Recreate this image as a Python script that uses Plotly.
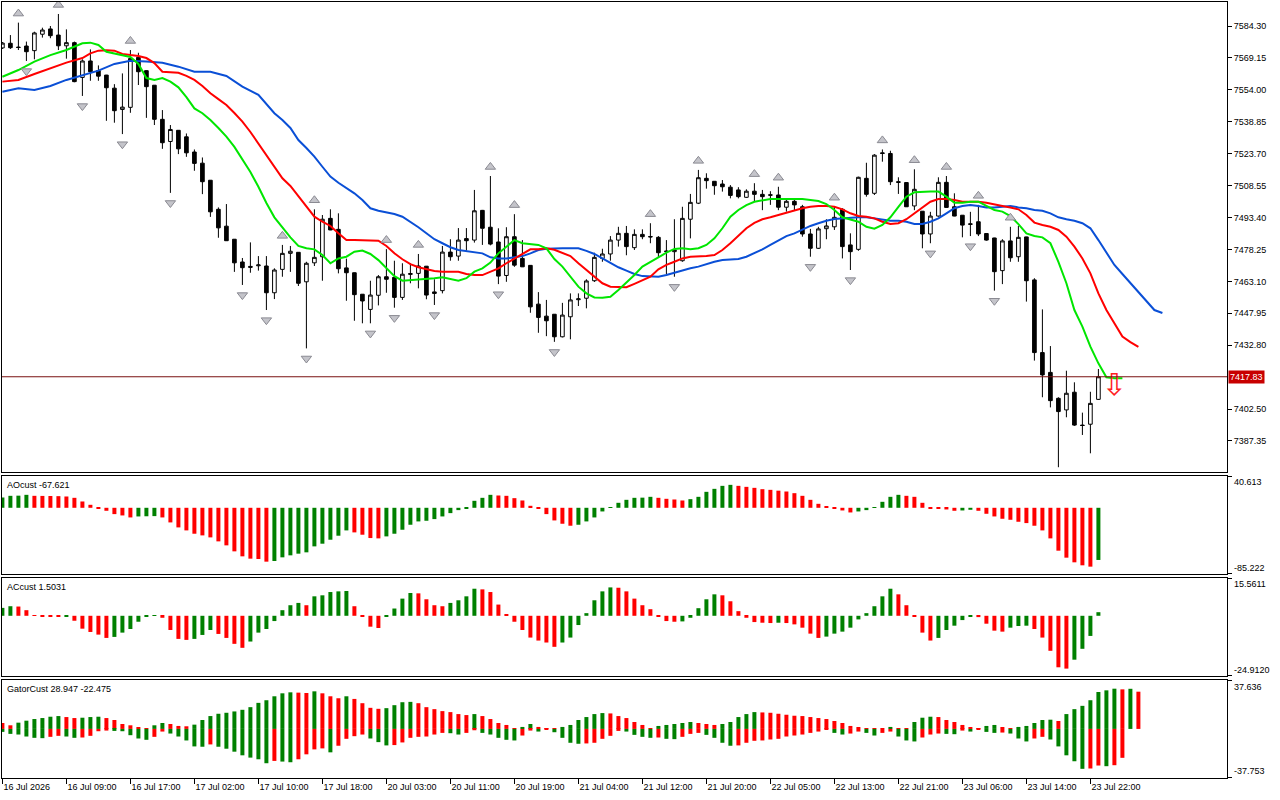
import plotly.graph_objects as go

# ---------------- data ----------------
tick_labels = ["16 Jul 2026", "16 Jul 09:00", "16 Jul 17:00", "17 Jul 02:00", "17 Jul 10:00",
               "17 Jul 18:00", "20 Jul 03:00", "20 Jul 11:00", "20 Jul 19:00", "21 Jul 04:00",
               "21 Jul 12:00", "21 Jul 20:00", "22 Jul 05:00", "22 Jul 13:00", "22 Jul 21:00",
               "23 Jul 06:00", "23 Jul 14:00", "23 Jul 22:00"]
tick_bars = [0, 8, 16, 24, 32, 40, 48, 56, 64, 72, 80, 88, 96, 104, 112, 120, 128, 136]

opens = [7573.9, 7576.1, 7574.3, 7574.8, 7572.6, 7580.4, 7582.9, 7580.0, 7574.9, 7576.4,
         7559.9, 7567.7, 7563.1, 7561.0, 7554.8, 7544.7, 7545.7, 7569.4, 7563.1, 7556.2,
         7540.0, 7529.5, 7534.8, 7531.7, 7524.5, 7519.2, 7511.1, 7497.3, 7489.3, 7483.1,
         7472.3, 7470.2, 7470.5, 7470.4, 7457.7, 7468.8, 7476.4, 7476.9, 7462.9, 7471.9,
         7474.8, 7493.0, 7487.8, 7469.5, 7467.2, 7457.0, 7449.8, 7456.5, 7465.3, 7465.0,
         7455.5, 7466.4, 7466.9, 7470.3, 7458.1, 7458.7, 7477.0, 7475.1, 7483.4, 7482.7,
         7496.8, 7488.8, 7481.8, 7465.9, 7484.3, 7474.0, 7470.7, 7452.3, 7446.6, 7447.5,
         7436.8, 7446.3, 7454.4, 7455.1, 7463.4, 7474.0, 7476.1, 7482.7, 7485.9, 7479.1,
         7485.4, 7484.4, 7484.0, 7477.5, 7477.2, 7472.9, 7492.6, 7500.2, 7512.0, 7510.6,
         7509.3, 7507.8, 7506.5, 7503.0, 7505.9, 7504.4, 7504.2, 7504.1, 7498.3, 7501.1,
         7498.5, 7485.6, 7478.8, 7488.1, 7489.0, 7497.3, 7480.4, 7478.3, 7512.0, 7504.9,
         7524.1, 7523.8, 7510.4, 7510.0, 7498.9, 7496.4, 7485.6, 7494.1, 7510.1, 7498.5,
         7494.5, 7490.4, 7491.4, 7485.8, 7483.7, 7468.2, 7482.3, 7474.8, 7484.2, 7463.8,
         7429.3, 7419.9, 7407.6, 7402.1, 7410.5, 7394.9, 7395.3, 7407.1]
highs = [7576.7, 7580.0, 7585.9, 7576.9, 7581.6, 7583.5, 7584.3, 7590.0, 7582.7, 7576.9,
         7568.5, 7573.2, 7565.6, 7561.1, 7556.7, 7561.8, 7572.9, 7571.6, 7563.3, 7556.3,
         7544.4, 7537.3, 7534.9, 7533.3, 7525.7, 7521.9, 7511.2, 7498.2, 7499.8, 7483.2,
         7474.2, 7481.6, 7475.1, 7475.1, 7469.3, 7480.4, 7479.9, 7477.0, 7472.4, 7497.3,
         7494.6, 7497.3, 7495.4, 7473.9, 7467.3, 7457.1, 7463.4, 7466.1, 7478.4, 7472.9,
         7471.7, 7471.7, 7476.1, 7470.4, 7464.1, 7479.9, 7483.1, 7488.4, 7488.4, 7506.5,
         7497.0, 7513.1, 7488.3, 7488.8, 7495.0, 7482.7, 7470.8, 7458.0, 7454.3, 7447.6,
         7452.9, 7457.4, 7457.4, 7464.1, 7476.7, 7478.6, 7484.6, 7489.0, 7489.4, 7487.8,
         7487.8, 7490.7, 7484.6, 7482.7, 7492.6, 7498.5, 7504.6, 7516.0, 7514.4, 7510.7,
         7511.2, 7508.8, 7507.8, 7506.8, 7509.7, 7506.5, 7505.9, 7508.0, 7502.5, 7502.5,
         7499.4, 7488.0, 7489.0, 7492.6, 7498.5, 7497.8, 7485.9, 7512.8, 7519.4, 7523.5,
         7525.7, 7525.1, 7512.5, 7510.1, 7516.3, 7496.5, 7496.1, 7512.5, 7513.1, 7504.9,
         7494.6, 7496.1, 7499.4, 7485.9, 7483.8, 7483.1, 7489.0, 7489.4, 7484.3, 7464.6,
         7449.8, 7432.4, 7408.1, 7420.7, 7415.2, 7400.8, 7410.7, 7421.5]
lows = [7573.4, 7573.4, 7572.9, 7567.7, 7568.5, 7578.8, 7578.5, 7572.9, 7568.8, 7557.6,
        7551.1, 7558.3, 7558.3, 7539.3, 7538.4, 7533.0, 7543.1, 7556.3, 7540.7, 7537.3,
        7526.0, 7505.1, 7523.5, 7522.2, 7515.6, 7504.5, 7493.7, 7483.8, 7482.3, 7467.6,
        7461.4, 7467.2, 7468.2, 7449.5, 7454.7, 7465.3, 7467.6, 7460.9, 7431.3, 7470.4,
        7463.4, 7487.4, 7466.9, 7453.9, 7444.4, 7443.2, 7443.2, 7451.7, 7457.7, 7450.6,
        7454.3, 7462.2, 7459.8, 7454.6, 7451.9, 7457.4, 7472.9, 7472.9, 7477.7, 7481.5,
        7480.4, 7480.2, 7461.8, 7462.9, 7470.0, 7469.9, 7448.2, 7438.7, 7437.1, 7434.4,
        7436.5, 7435.6, 7451.4, 7450.3, 7462.8, 7472.4, 7472.9, 7479.6, 7475.5, 7478.0,
        7483.1, 7481.2, 7474.5, 7466.6, 7465.3, 7472.4, 7483.5, 7499.8, 7507.1, 7504.2,
        7505.7, 7502.5, 7502.5, 7502.7, 7500.9, 7496.9, 7499.4, 7496.9, 7496.2, 7496.9,
        7484.3, 7474.8, 7478.5, 7483.1, 7487.5, 7474.0, 7468.5, 7477.6, 7503.3, 7504.1,
        7519.9, 7508.8, 7504.6, 7498.4, 7496.9, 7478.8, 7481.2, 7493.8, 7498.1, 7494.0,
        7484.0, 7484.6, 7484.6, 7482.4, 7458.7, 7461.8, 7472.4, 7472.4, 7453.5, 7425.5,
        7408.1, 7403.3, 7374.9, 7398.6, 7394.5, 7390.2, 7381.5, 7406.8]
closes = [7576.2, 7574.0, 7574.1, 7572.1, 7581.0, 7582.4, 7579.7, 7574.9, 7576.4, 7557.9,
          7567.7, 7562.6, 7560.5, 7555.0, 7544.1, 7545.8, 7568.9, 7562.6, 7555.5, 7540.0,
          7528.9, 7535.2, 7526.0, 7524.1, 7519.1, 7510.4, 7496.1, 7488.5, 7482.4, 7471.9,
          7469.6, 7469.8, 7470.9, 7457.7, 7468.5, 7476.4, 7477.4, 7462.2, 7471.7, 7474.5,
          7492.6, 7487.5, 7469.1, 7467.2, 7456.8, 7453.8, 7456.6, 7465.3, 7464.1, 7455.5,
          7466.5, 7466.8, 7470.4, 7456.6, 7457.4, 7477.0, 7474.8, 7482.7, 7482.4, 7496.6,
          7488.3, 7480.8, 7465.6, 7484.3, 7470.8, 7470.0, 7451.0, 7446.0, 7444.4, 7436.8,
          7447.1, 7454.3, 7454.8, 7463.3, 7474.5, 7476.1, 7482.7, 7485.9, 7479.6, 7485.4,
          7484.3, 7484.2, 7476.7, 7477.3, 7478.0, 7493.0, 7500.6, 7512.3, 7510.9, 7508.5,
          7508.0, 7503.9, 7503.3, 7505.9, 7504.4, 7503.3, 7504.0, 7498.3, 7501.1, 7499.4,
          7485.6, 7478.8, 7488.0, 7489.4, 7493.5, 7479.6, 7477.2, 7512.5, 7504.4, 7523.0,
          7523.8, 7510.4, 7510.1, 7498.5, 7506.8, 7485.6, 7494.1, 7510.1, 7498.2, 7494.1,
          7489.8, 7490.2, 7485.6, 7482.7, 7467.7, 7482.3, 7474.3, 7484.0, 7463.4, 7429.3,
          7418.7, 7406.5, 7401.3, 7410.0, 7394.9, 7394.7, 7405.2, 7417.83]

lips_bars = [0, 2, 4, 6, 8] + list(range(10, 141))
lips = [7560.2, 7563.4, 7567.4, 7570.5, 7572.9,
        7576.1, 7576.4, 7575.3, 7572.1, 7571.3, 7570.5, 7569.6, 7566.3, 7559.6, 7558.7,
        7559.6, 7557.9, 7555.2, 7550.5, 7545.2, 7542.9, 7539.7, 7535.9, 7531.8, 7526.9,
        7520.7, 7515.0, 7508.0, 7500.3, 7493.5, 7488.8, 7484.0, 7479.9, 7478.8, 7478.3,
        7475.6, 7471.7, 7474.0, 7474.8, 7477.2, 7477.7, 7476.1, 7473.2, 7469.3, 7465.6,
        7463.4, 7463.7, 7463.7, 7464.1, 7464.6, 7465.0, 7464.1, 7463.4, 7464.6, 7467.7,
        7469.3, 7472.0, 7476.4, 7479.6, 7482.7, 7481.2, 7480.8, 7480.4, 7478.8, 7473.7,
        7470.1, 7465.3, 7460.6, 7457.4, 7455.5, 7455.3, 7455.8, 7459.0, 7462.5, 7466.1,
        7470.1, 7472.4, 7474.8, 7476.7, 7478.5, 7478.8, 7478.3, 7478.8, 7480.4, 7483.5,
        7488.3, 7493.8, 7497.0, 7499.3, 7500.9, 7501.7, 7502.2, 7502.2, 7502.2, 7502.2,
        7502.2, 7501.7, 7501.2, 7499.8, 7497.0, 7493.5, 7492.6, 7491.4, 7489.0, 7488.1,
        7489.9, 7493.5, 7498.5, 7503.3, 7505.4, 7505.7, 7505.7, 7505.7, 7503.3, 7500.4,
        7500.4, 7500.9, 7500.9, 7498.9, 7497.0, 7496.2, 7494.1, 7490.3, 7485.9, 7484.6,
        7484.0, 7481.2, 7472.4, 7462.2, 7449.5, 7441.6, 7432.1, 7424.2, 7417.6, 7417.1,
        7417.1]
teeth_bars = [0, 2, 4, 6, 8] + list(range(10, 143))
teeth = [7557.9, 7558.7, 7561.5, 7564.2, 7566.9,
         7569.1, 7571.3, 7572.6, 7572.8, 7572.6, 7571.0, 7570.5, 7570.1, 7569.1, 7566.7,
         7562.6, 7562.3, 7562.1, 7560.6, 7558.7, 7555.8, 7552.4, 7549.6, 7546.8, 7543.0,
         7538.9, 7534.0, 7528.6, 7523.1, 7517.5, 7512.0, 7508.4, 7503.6, 7498.5, 7493.8,
         7491.4, 7489.4, 7485.9, 7482.7, 7482.7, 7482.7, 7482.7, 7482.4, 7479.9, 7476.4,
         7473.6, 7471.3, 7469.8, 7468.8, 7468.0, 7467.7, 7467.7, 7467.7, 7466.6, 7466.1,
         7466.1, 7467.7, 7469.3, 7471.7, 7474.0, 7476.1, 7478.3, 7478.3, 7478.8, 7478.1,
         7476.7, 7475.1, 7471.7, 7468.5, 7465.0, 7462.2, 7460.6, 7460.3, 7460.3, 7461.9,
         7463.7, 7465.3, 7468.8, 7470.9, 7472.4, 7474.0, 7474.8, 7474.8, 7475.1, 7475.6,
         7478.0, 7481.2, 7484.6, 7488.3, 7490.9, 7492.6, 7493.5, 7494.6, 7495.7, 7497.0,
         7497.8, 7498.5, 7498.9, 7498.9, 7498.5, 7497.3, 7495.4, 7494.1, 7493.8, 7493.0,
         7491.4, 7490.3, 7490.7, 7492.6, 7495.4, 7498.2, 7500.9, 7502.2, 7502.2, 7501.7,
         7500.9, 7500.9, 7500.9, 7500.4, 7499.8, 7498.9, 7498.2, 7497.3, 7494.6, 7491.0,
         7489.9, 7489.0, 7487.5, 7484.3, 7479.6, 7474.0, 7466.9, 7457.4, 7449.5, 7443.2,
         7436.9, 7434.3, 7432.0]
jaw_bars = list(range(0, 35, 2)) + list(range(35, 146))
jaw = [7553.1, 7554.7, 7553.9, 7555.8, 7558.7, 7561.0, 7563.1, 7566.3, 7567.8, 7567.4,
       7566.9, 7565.0, 7562.6, 7562.6, 7560.6, 7555.5, 7551.6, 7542.9,
       7539.7, 7535.9, 7530.2, 7526.4, 7522.3, 7517.5, 7512.8, 7509.9, 7507.3, 7504.9,
       7501.7, 7497.8, 7496.6, 7495.7, 7495.1, 7493.8, 7491.4, 7488.8, 7485.9, 7483.1,
       7481.2, 7479.3, 7478.0, 7477.5, 7477.2, 7476.4, 7474.5, 7474.0, 7474.0, 7474.5,
       7475.1, 7476.4, 7478.0, 7478.6, 7478.8, 7478.8, 7478.8, 7478.8, 7477.6, 7476.1,
       7474.0, 7471.7, 7469.8, 7468.2, 7466.6, 7465.6, 7465.3, 7465.3, 7466.1, 7467.2,
       7468.5, 7469.3, 7470.1, 7471.3, 7472.4, 7473.2, 7473.6, 7473.7, 7474.8, 7476.4,
       7478.3, 7480.4, 7482.7, 7484.6, 7485.9, 7487.8, 7489.4, 7490.7, 7491.9, 7492.7,
       7493.0, 7493.5, 7493.5, 7493.5, 7493.0, 7492.2, 7491.9, 7491.9, 7491.4, 7490.3,
       7490.3, 7491.4, 7493.0, 7495.4, 7497.8, 7498.9, 7499.4, 7498.9, 7498.2, 7498.2,
       7498.5, 7498.9, 7498.2, 7497.8, 7497.0, 7496.6, 7495.4, 7493.5, 7492.6, 7491.9,
       7490.7, 7488.3, 7482.7, 7476.7, 7470.9, 7466.6, 7462.3, 7457.6, 7453.3, 7449.5,
       7448.1]

fractal_up_bars = [2, 7, 16, 35, 39, 48, 52, 61, 64, 81, 87, 94, 97, 104, 110, 114, 118, 122, 126]
fractal_down_bars = [3, 10, 15, 21, 30, 33, 38, 46, 49, 54, 62, 69, 84, 101, 106, 116, 121, 124, 132]
signal_bars = [139]
signal_prices = [7412.5]
current_price = 7417.83

ao = [13.36, 15.52, 15.73, 16.81, 15.52, 15.39, 15.26, 15.09, 14.65, 12.93,
      8.19, 3.88, -0.86, -3.88, -8.19, -9.91, -12.50, -11.21, -10.99, -10.78,
      -12.50, -18.96, -25.43, -29.31, -33.62, -35.77, -38.36, -43.53, -48.70, -56.46,
      -62.93, -65.94, -66.37, -69.82, -68.96, -64.22, -61.63, -59.48, -57.75, -50.00,
      -46.55, -41.38, -36.20, -29.31, -31.89, -34.91, -39.22, -39.65, -37.07, -33.62,
      -28.45, -21.98, -17.67, -16.81, -14.65, -11.21, -6.90, -3.02, -0.86, 9.05,
      12.93, 16.81, 15.95, 15.52, 12.50, 9.48, 2.59, -0.86, -8.19, -16.38,
      -20.69, -23.27, -21.98, -17.67, -12.50, -4.74, 0.86, 6.47, 10.34, 12.93,
      13.15, 14.22, 12.93, 11.64, 10.78, 9.48, 11.21, 14.22, 20.69, 24.57,
      28.45, 29.74, 28.45, 27.15, 25.86, 24.14, 23.27, 22.20, 21.12, 18.96,
      15.52, 10.34, 5.17, 1.29, -0.43, -3.45, -6.03, -4.74, -3.02, 0.86,
      7.76, 14.22, 16.81, 15.52, 14.22, 6.47, -0.43, -0.86, -2.16, -3.88,
      -3.45, -2.59, -3.88, -7.76, -11.21, -14.22, -15.52, -18.10, -19.83, -23.27,
      -29.31, -39.65, -55.60, -64.65, -70.68, -74.56, -76.29, -67.621]
ac = [3.30, 3.99, 3.86, 2.34, 0.28, -0.14, -0.28, -0.41, -0.28, -2.07,
      -5.37, -6.75, -7.85, -9.23, -8.81, -7.02, -5.51, -2.48, -0.28, 0.28,
      -0.83, -5.92, -9.64, -10.05, -9.64, -7.99, -5.92, -7.57, -9.23, -11.70,
      -13.36, -10.74, -7.02, -5.51, -2.20, 2.34, 4.41, 5.37, 4.41, 8.12,
      8.54, 9.91, 10.19, 10.33, 3.99, -0.41, -4.54, -5.09, -0.41, 3.03,
      7.16, 9.50, 9.36, 6.89, 4.41, 3.99, 5.37, 6.47, 8.12, 11.29,
      11.02, 9.91, 4.68, 0.55, -2.48, -5.92, -9.09, -10.33, -11.15, -12.94,
      -11.15, -9.09, -3.86, 1.10, 6.47, 10.19, 11.84, 11.70, 10.19, 7.16,
      4.41, 2.75, -0.28, -2.20, -2.48, -2.34, -0.83, 3.17, 6.89, 8.95,
      8.54, 6.06, 1.93, -0.83, -2.62, -2.89, -3.03, -2.89, -3.03, -3.58,
      -4.96, -7.44, -9.23, -8.68, -7.44, -6.61, -4.96, -1.51, 1.10, 3.99,
      8.12, 11.29, 8.95, 4.41, -0.28, -7.02, -10.33, -9.23, -5.92, -4.13,
      -1.79, -0.28, -0.55, -3.30, -6.20, -6.61, -4.96, -4.27, -4.13, -5.51,
      -9.09, -14.60, -21.48, -22.03, -18.31, -13.77, -8.40, 1.5031]
gator_up = [4.62, 2.82, 4.87, 6.41, 7.69, 8.46, 9.49, 10.00, 9.23, 8.46,
            8.72, 9.23, 9.49, 8.46, 6.92, 3.85, 2.82, 1.03, 0.51, 2.82,
            4.62, 3.85, 2.31, 2.05, 3.33, 6.92, 10.00, 11.79, 12.56, 13.59,
            14.87, 16.92, 20.26, 22.31, 25.38, 27.69, 28.46, 28.21, 27.95, 29.23,
            27.69, 25.38, 23.85, 25.38, 23.33, 20.00, 16.41, 15.64, 16.15, 18.46,
            20.77, 21.03, 20.00, 16.92, 15.38, 13.85, 13.08, 11.54, 10.77, 11.54,
            10.00, 7.69, 4.62, 3.08, 0.26, 1.54, 3.85, 1.54, 0.26, 0.05,
            1.54, 3.08, 6.92, 9.23, 11.54, 12.31, 12.05, 10.00, 8.46, 5.38,
            3.08, 0.26, 2.31, 3.08, 3.85, 4.62, 5.38, 4.62, 3.85, 3.08,
            3.85, 5.38, 9.23, 11.54, 13.08, 12.82, 12.56, 11.79, 11.03, 10.26,
            10.00, 9.23, 8.46, 7.69, 6.15, 4.62, 2.31, 0.77, 0.26, 0.13,
            0.05, 1.54, 0.51, 0.26, 5.38, 8.72, 9.49, 9.23, 6.92, 5.38,
            3.08, 0.77, 0.26, 2.31, 3.08, 0.77, 0.51, 1.54, 2.31, 4.62,
            6.92, 7.18, 6.15, 11.54, 15.38, 17.95, 22.31, 28.72, 30.00, 31.28,
            30.77, 31.20, 28.947]
gator_down = [-2.31, -3.85, -4.36, -5.90, -6.92, -7.18, -6.15, -5.38, -5.90, -6.92,
              -6.67, -5.38, -1.79, -1.28, -1.54, -1.79, -4.87, -7.44, -8.46, -6.15,
              -2.05, -3.59, -5.90, -8.97, -13.59, -13.85, -12.05, -13.85, -15.38, -17.69,
              -20.51, -22.31, -23.59, -26.67, -24.87, -25.38, -25.90, -23.59, -19.74, -15.90,
              -15.13, -18.20, -13.08, -7.69, -5.64, -4.36, -7.44, -10.26, -12.82, -12.56,
              -10.51, -6.92, -6.15, -5.90, -4.36, -3.08, -3.33, -4.36, -3.08, -1.03,
              -3.08, -4.36, -6.92, -8.46, -8.97, -5.13, -1.28, -2.05, -0.26, -2.56,
              -6.92, -10.77, -11.54, -11.28, -10.77, -7.69, -5.38, -1.54, -2.05, -4.62,
              -6.15, -6.92, -6.67, -7.69, -7.95, -6.15, -3.85, -3.08, -4.62, -6.92,
              -10.77, -13.08, -12.82, -10.77, -9.23, -8.97, -8.21, -7.69, -5.90, -5.13,
              -4.36, -3.08, -2.05, -0.77, -3.08, -4.36, -3.59, -2.05, -3.08, -5.13,
              -3.08, -2.05, -5.90, -8.97, -9.74, -6.67, -4.36, -3.59, -3.85, -4.10,
              -1.28, -2.05, -0.51, -2.31, -3.08, -2.82, -3.59, -7.44, -9.74, -7.44,
              -6.15, -8.21, -13.59, -20.51, -25.13, -31.02, -30.77, -28.46, -28.97, -28.21,
              -22.475]

price_ticks = [7584.30, 7569.15, 7554.00, 7538.85, 7523.70, 7508.55, 7493.40, 7478.25,
               7463.10, 7447.95, 7432.80, 7402.50, 7387.35]
ao_scale = [-85.222, 40.613]
ac_scale = [-24.9120, 15.5611]
gator_scale = [-37.753, 37.636]
price_range = [7372.63, 7595.69]

# ---------------- style ----------------
GREEN = "#008000"
RED = "#ff0000"
FONT = "Liberation Sans"
W, H = 1280, 800
X0, X1 = 2 / W, 1227 / W


def ydom(top_px, bot_px):
    return [1 - bot_px / H, 1 - top_px / H]


def colors_by_rise(vals, first, use_abs=False):
    out = [first]
    for a, b in zip(vals[:-1], vals[1:]):
        if use_abs:
            a, b = abs(a), abs(b)
        out.append(GREEN if b > a else RED)
    return out


n = len(opens)
bars = list(range(n))

fig = go.Figure()

fig.add_trace(go.Candlestick(
    x=bars, open=opens, high=highs, low=lows, close=closes,
    increasing=dict(line=dict(color="black", width=1), fillcolor="white"),
    decreasing=dict(line=dict(color="black", width=1), fillcolor="black"),
    whiskerwidth=0, xaxis="x", yaxis="y", showlegend=False, hoverinfo="skip"))

for xs, ys, col in [(jaw_bars, jaw, "#0a4fd6"), (teeth_bars, teeth, "#ff0000"),
                    (lips_bars, lips, "#00e600")]:
    fig.add_trace(go.Scatter(x=xs, y=ys, mode="lines", line=dict(color=col, width=2),
                             xaxis="x", yaxis="y", showlegend=False, hoverinfo="skip"))

GAP_UP, GAP_DN = 4.3, 4.8
fract_marker = dict(size=9, color="#c4c4ca", line=dict(color="#8a8a92", width=1))
fig.add_trace(go.Scatter(
    x=fractal_up_bars, y=[highs[i] + GAP_UP for i in fractal_up_bars], mode="markers",
    marker=dict(fract_marker, symbol="triangle-up"),
    xaxis="x", yaxis="y", showlegend=False, hoverinfo="skip"))
fig.add_trace(go.Scatter(
    x=fractal_down_bars, y=[lows[i] - GAP_DN for i in fractal_down_bars], mode="markers",
    marker=dict(fract_marker, symbol="triangle-down"),
    xaxis="x", yaxis="y", showlegend=False, hoverinfo="skip"))
fig.add_trace(go.Scatter(
    x=signal_bars, y=signal_prices, mode="text", text=["⇩"],
    textfont=dict(family="DejaVu Sans", size=30, color="#ff2020"),
    xaxis="x", yaxis="y", showlegend=False, hoverinfo="skip"))

fig.add_trace(go.Bar(x=bars, y=ao, marker=dict(color=colors_by_rise(ao, GREEN), line=dict(width=0)),
                     width=0.5, xaxis="x2", yaxis="y2", showlegend=False, hoverinfo="skip"))
fig.add_trace(go.Bar(x=bars, y=ac, marker=dict(color=colors_by_rise(ac, GREEN), line=dict(width=0)),
                     width=0.5, xaxis="x3", yaxis="y3", showlegend=False, hoverinfo="skip"))
fig.add_trace(go.Bar(x=list(range(len(gator_up))), y=gator_up,
                     marker=dict(color=colors_by_rise(gator_up, RED), line=dict(width=0)),
                     width=0.5, xaxis="x4", yaxis="y4", showlegend=False, hoverinfo="skip"))
fig.add_trace(go.Bar(x=list(range(len(gator_down))), y=gator_down,
                     marker=dict(color=colors_by_rise(gator_down, GREEN, use_abs=True), line=dict(width=0)),
                     width=0.5, xaxis="x4", yaxis="y4", showlegend=False, hoverinfo="skip"))

xr = [-0.05, -0.05 + 1225 / 8]
common_x = dict(domain=[X0, X1], range=xr, showgrid=False, zeroline=False, showline=True,
                mirror=True, linecolor="black", linewidth=1, showticklabels=False, ticks="",
                fixedrange=True)
common_y = dict(side="right", showgrid=False, zeroline=False, showline=True, mirror=True,
                linecolor="black", linewidth=1, ticks="outside", ticklen=4, tickcolor="black",
                tickfont=dict(family=FONT, size=9, color="black"), fixedrange=True)

fig.update_layout(
    width=W, height=H, margin=dict(l=0, r=0, t=0, b=0),
    paper_bgcolor="white", plot_bgcolor="white", barmode="overlay", boxgap=0.35,
    font=dict(family=FONT, size=9, color="black"),
    xaxis=dict(common_x, anchor="y", rangeslider=dict(visible=False)),
    xaxis2=dict(common_x, anchor="y2", matches="x"),
    xaxis3=dict(common_x, anchor="y3", matches="x"),
    xaxis4=dict(common_x, anchor="y4", matches="x", ticks="outside", ticklen=5,
                tickcolor="black", showticklabels=True, tickvals=tick_bars, ticktext=tick_labels,
                ticklabelposition="outside right", tickfont=dict(family=FONT, size=9, color="black")),
    yaxis=dict(common_y, domain=ydom(2, 472), anchor="x", range=price_range,
               tickvals=price_ticks, ticktext=[f"{v:.2f}" for v in price_ticks]),
    yaxis2=dict(common_y, domain=ydom(476, 574), anchor="x2",
                range=[ao_scale[0] - 0.6, ao_scale[1] + 0.6], tickvals=ao_scale, showticklabels=False),
    yaxis3=dict(common_y, domain=ydom(578, 676), anchor="x3",
                range=[ac_scale[0] - 0.2, ac_scale[1] + 0.2], tickvals=ac_scale, showticklabels=False),
    yaxis4=dict(common_y, domain=ydom(680, 778), anchor="x4",
                range=[gator_scale[0] - 0.4, gator_scale[1] + 0.4], tickvals=gator_scale,
                showticklabels=False),
)

# scale labels of the indicator windows: top value hangs below its tick, bottom value sits above
for ax, scale, fmt in [("y2", ao_scale, "{:.3f}"), ("y3", ac_scale, "{:.4f}"), ("y4", gator_scale, "{:.3f}")]:
    fig.add_annotation(xref="paper", yref=ax, x=X1 + 5 / W, y=scale[1], xanchor="left", yanchor="top",
                       yshift=1, text=fmt.format(scale[1]), showarrow=False,
                       font=dict(family=FONT, size=9, color="black"))
    fig.add_annotation(xref="paper", yref=ax, x=X1 + 5 / W, y=scale[0], xanchor="left", yanchor="bottom",
                       yshift=-1, text=fmt.format(scale[0]), showarrow=False,
                       font=dict(family=FONT, size=9, color="black"))

fig.add_shape(type="line", xref="x domain", yref="y", x0=0, x1=1, y0=current_price, y1=current_price,
              line=dict(color="#7a1010", width=1))
fig.add_annotation(xref="paper", yref="y", x=X1 + 1 / W, y=current_price, xanchor="left",
                   yanchor="middle", text=f"{current_price:.2f}", showarrow=False,
                   bgcolor="#c80000", font=dict(family=FONT, size=9, color="white"), borderpad=1)

labels = [("y2", f"AOcust {ao[-1]:.3f}"), ("y3", f"ACcust {ac[-1]:.4f}"),
          ("y4", f"GatorCust {gator_up[-1]:.3f} {gator_down[-1]:.3f}")]
for ax, txt in labels:
    fig.add_annotation(xref="paper", yref=f"{ax} domain", x=5 / W, y=1, xanchor="left",
                       yanchor="top", yshift=-2, text=txt, showarrow=False,
                       font=dict(family=FONT, size=9, color="black"))

fig.write_html("out.html", config={"displayModeBar": False},
               post_script="document.body.style.margin='0';document.body.style.overflow='hidden';")
